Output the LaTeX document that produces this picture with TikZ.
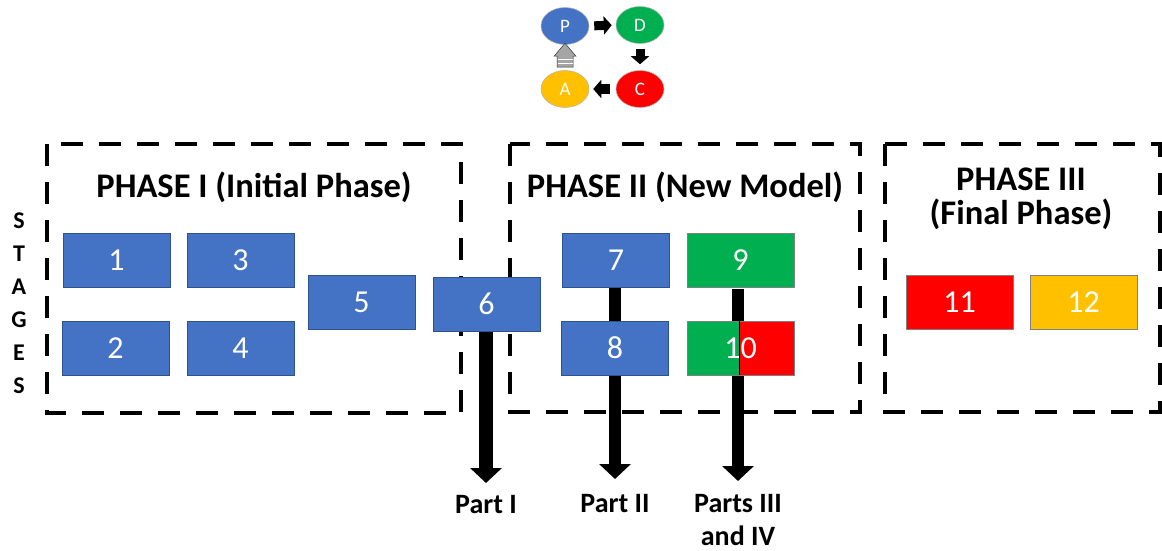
\documentclass[tikz,border=0pt]{standalone}
\usepackage{fontspec}
\setmainfont{Carlito}
\usetikzlibrary{arrows.meta,shapes.geometric,calc}
\definecolor{oblue}{HTML}{4472C4}
\definecolor{oblueline}{HTML}{2F528F}
\definecolor{ogreen}{HTML}{00B050}
\definecolor{ored}{HTML}{FF0000}
\definecolor{oyellow}{HTML}{FFC000}
\definecolor{ogray}{HTML}{A5A5A5}
\tikzset{
  phasebox/.style={draw=black, line width=4.5pt, dash pattern=on 22pt off 16pt},
  stagebox/.style={draw=oblueline, line width=0.8pt, fill=oblue, text=white, minimum width=107pt, minimum height=54pt, inner sep=0pt, font=\fontsize{32}{32}\selectfont},
  greenbox/.style={stagebox, fill=ogreen, draw=gray},
  redbox/.style={stagebox, fill=ored, draw=gray},
  yellowbox/.style={stagebox, fill=oyellow, draw=gray},
  title/.style={font=\bfseries\fontsize{34.5}{34}\selectfont, align=center},
  partlabel/.style={font=\bfseries\fontsize{28}{33}\selectfont, align=center, anchor=north, inner sep=0.5pt},
  bigarrow/.style={line width=14pt, -{Triangle[width=31pt,length=15pt]}},
  pdca/.style={ellipse, draw=gray!60, line width=0.5pt, minimum width=48pt, minimum height=37pt, inner sep=0pt, text=white, font=\fontsize{19}{19}\selectfont},
  blockarrow/.style={line width=9pt, -{Triangle[width=18pt,length=8pt]}},
  grayarrow/.style={fill=ogray, draw=gray!40!black, line width=0.5pt},
}
\begin{document}
\begin{tikzpicture}[x=1pt,y=-1pt]
\useasboundingbox (0,0) rectangle (1162,551);
% PDCA cycle
\node[pdca, fill=oblue] (P) at (565,26) {P};
\node[pdca, fill=ogreen] (D) at (640,25) {D};
\node[pdca, fill=oyellow] (A) at (565,89) {A};
\node[pdca, fill=ored] (C) at (640,89) {C};
\draw[blockarrow, shorten <=5pt, shorten >=4pt] (P.east) -- (D.west);
\draw[blockarrow, shorten <=5pt, shorten >=6pt] (D.south) -- (C.north);
\draw[blockarrow, shorten <=6pt, shorten >=4pt] (C.west) -- (A.east);
\draw[grayarrow] ($(A.north)+(-8,-3)$) -- ++(0,-11) -- ++(-3,0) -- ($(P.south)+(0,-1.5)$)
  -- ($(A.north)+(11,-14)$) -- ++(-3,0) -- ++(0,11) -- cycle;
\draw[white, line width=1pt] ($(A.north)+(-7.5,-7)$) -- ++(15,0);
\draw[white, line width=1pt] ($(A.north)+(-7.5,-10.5)$) -- ++(15,0);
% phase frames
\draw[phasebox] (47,144) rectangle (461,413);
\draw[phasebox] (510,144) rectangle (860,412);
\draw[phasebox] (885,144) rectangle (1160,412);
% titles
\node[title] (t1) at (254,187) {PHASE I (Initial Phase)};
\node[title] (t2) at (685,187) {PHASE II (New Model)};
\node[title] (t3) at (1021,199) {PHASE III\\(Final Phase)};
\node[font=\bfseries\fontsize{24}{33}\selectfont, align=center] (stages) at (19,303) {S\\T\\A\\G\\E\\S};
% arrow end points
\coordinate (e6) at (486,483);
\coordinate (e7) at (615,479);
\coordinate (e9) at (738,481);
\coordinate (s9) at (738,289);
\draw[bigarrow] (486,331) -- (e6);
\draw[bigarrow, line width=12pt] (615,287) -- (e7);
\draw[bigarrow, line width=12pt] (s9) -- (e9);
% stage boxes
\node[stagebox] (n1) at (116.5,260) {1};
\node[stagebox] (n2) at (115.5,348) {2};
\node[stagebox] (n3) at (240.5,260) {3};
\node[stagebox] (n4) at (240.5,348) {4};
\node[stagebox] (n5) at (361.5,302.5) {5};
\node[stagebox] (n6) at (486.5,304) {6};
\node[stagebox] (n7) at (616,260) {7};
\node[stagebox] (n8) at (615,348) {8};
\node[greenbox] (n9) at (740.5,260) {9};
\fill[ogreen] (687,321) rectangle (739,375);
\fill[ored] (739,321) rectangle (794,375);
\draw[gray, line width=0.8pt] (687,321) rectangle (794,375);
\draw[black, line width=0.8pt] (739,321) -- (739,375);
\node[stagebox, fill=none, draw=none] (n10) at (740.5,348) {10};
\node[redbox] (n11) at (959.5,302.5) {11};
\node[yellowbox] (n12) at (1083.5,302.5) {12};
% part labels
\node[partlabel] (p1) at (e6 |- 0,495) {Part I};
\node[partlabel] (p2) at (e7 |- 0,494) {Part II};
\node[partlabel] (p3) at (e9 |- 0,494) {Parts III\\and IV};
\end{tikzpicture}
\end{document}
